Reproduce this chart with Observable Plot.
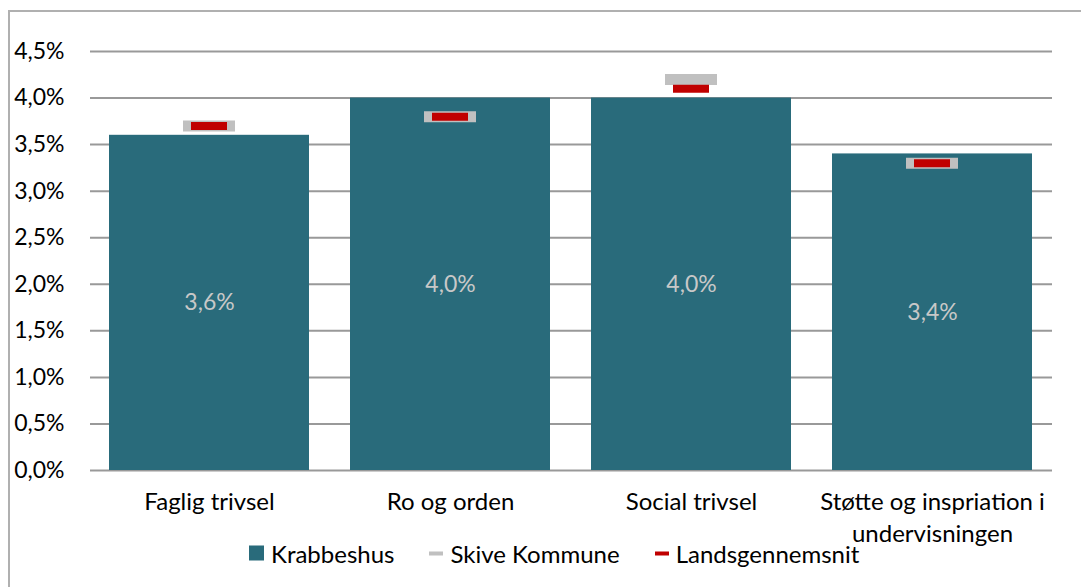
<!DOCTYPE html>
<html>
<head>
<meta charset="utf-8">
<script src="https://cdn.jsdelivr.net/npm/d3@7"></script>
<script src="https://cdn.jsdelivr.net/npm/@observablehq/plot@0.6"></script>
<style>
  html, body { margin: 0; padding: 0; background: #fff; overflow: hidden; }
  body { width: 1081px; height: 587px; position: relative; font-family: Lato, "Open Sans", sans-serif; }
  #frame { position: absolute; left: 8px; top: 10px; width: 1090px; height: 600px; border: 2px solid #b0b0b0; box-sizing: border-box; }
  #chart { position: absolute; left: 0; top: 0; }
  #legend { position: absolute; top: 553px; left: 249px; transform: translateY(-50%); display: flex; align-items: center; font-size: 24px; color: #000; white-space: nowrap; }
  .item { display: flex; align-items: center; margin-right: 35px; }
  .sw { display: inline-block; margin-right: 7px; }
</style>
</head>
<body>
<div id="frame"></div>
<div id="chart"></div>
<div id="legend"></div>
<script>
const categories = ["Faglig trivsel", "Ro og orden", "Social trivsel", "Støtte og inspriation i undervisningen"];
const tickLabels = ["Faglig trivsel", "Ro og orden", "Social trivsel", "Støtte og inspriation i\nundervisningen"];
const krabbeshus = [3.6, 4.0, 4.0, 3.4];
const skiveKommune = [3.7, 3.8, 4.2, 3.3];
const landsgennemsnit = [3.7, 3.8, 4.1, 3.3];
const yTicks = [0, 0.5, 1, 1.5, 2, 2.5, 3, 3.5, 4, 4.5];
const seriesNames = ["Krabbeshus", "Skive Kommune", "Landsgennemsnit"];
const colors = ["#296b7b", "#c0c0c0", "#c00000"];

const rows = categories.map((c, i) => ({
  cat: c, label: tickLabels[i], k: krabbeshus[i], s: skiveKommune[i], l: landsgennemsnit[i]
}));
const fmt = v => v.toFixed(1).replace(".", ",") + "%";
const labelOf = new Map(rows.map(r => [r.cat, r.label]));

const chart = Plot.plot({
  width: 1081,
  height: 587,
  marginTop: 51,
  marginBottom: 117,
  marginLeft: 90,
  marginRight: 29,
  style: { fontFamily: "Lato, 'Open Sans', sans-serif", background: "transparent" },
  x: { domain: categories, paddingInner: 0.17, paddingOuter: 0.08, label: null },
  y: { domain: [0, 4.5], label: null },
  marks: [
    Plot.gridY(yTicks, { stroke: "#999", strokeOpacity: 1, strokeWidth: 2 }),
    Plot.barY(rows, { x: "cat", y: "k", fill: colors[0] }),
    Plot.tickY(rows, { x: "cat", y: "s", stroke: colors[1], strokeWidth: 11, inset: 74 }),
    Plot.tickY(rows, { x: "cat", y: "l", stroke: colors[2], strokeWidth: 8, inset: 82 }),
    Plot.text(rows, { x: "cat", y: d => d.k / 2, text: d => fmt(d.k), fill: "#c8c8c8", fontSize: 23 }),
    Plot.axisY(yTicks, { tickSize: 0, tickPadding: 26, tickFormat: fmt, fontSize: 23, fill: "#000" }),
    Plot.axisX({ tickSize: 0, tickPadding: 17, tickFormat: d => labelOf.get(d), fontSize: 24, fill: "#000", lineHeight: 1.33 })
  ]
});
document.getElementById("chart").appendChild(chart);

const legend = document.getElementById("legend");
seriesNames.forEach((name, i) => {
  const item = document.createElement("div");
  item.className = "item";
  const sw = document.createElement("span");
  sw.className = "sw";
  sw.style.background = colors[i];
  if (i === 0) { sw.style.width = "15px"; sw.style.height = "15px"; }
  else { sw.style.width = "14px"; sw.style.height = "4px"; }
  item.appendChild(sw);
  const t = document.createElement("span");
  t.textContent = name;
  item.appendChild(t);
  legend.appendChild(item);
});
</script>
</body>
</html>
